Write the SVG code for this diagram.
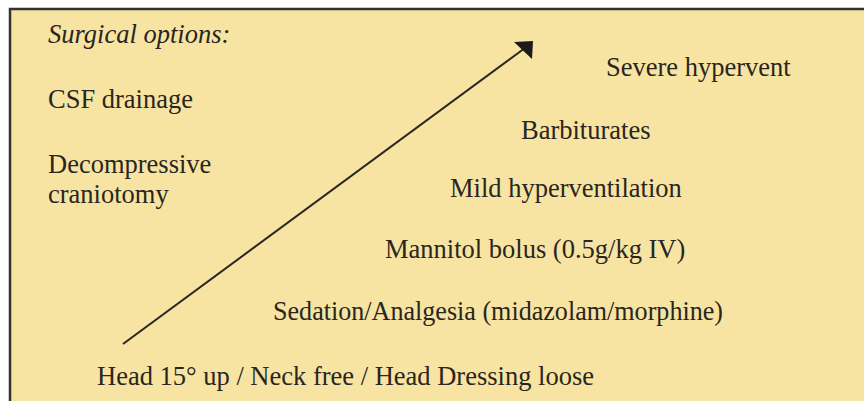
<svg xmlns="http://www.w3.org/2000/svg" width="864" height="401" viewBox="0 0 864 401">
<style>
  .t { font-family: "Liberation Serif", "Times New Roman", serif; font-size: 26.5px; fill: #2a2520; }
  .i { font-style: italic; }
  .box { fill: #f7e4a2; stroke: #333; stroke-width: 2.5; }
  .conn { stroke: #2a2520; stroke-width: 2; fill: none; }
  .head { fill: #1a1a1a; }
</style>
<rect width="864" height="401" fill="#ffffff"/>
<rect class="box" x="10" y="9" width="870" height="400"/>
<g id="surgical-options"><text class="t i" x="48" y="43">Surgical options:</text></g>
<g id="csf-drainage"><text class="t" x="48" y="108">CSF drainage</text></g>
<g id="decompressive-craniotomy"><text class="t" x="48" y="173">Decompressive</text><text class="t" x="48" y="203">craniotomy</text></g>
<g id="severe-hypervent"><text class="t" x="606" y="76">Severe hypervent</text></g>
<g id="barbiturates"><text class="t" x="521" y="139">Barbiturates</text></g>
<g id="mild-hyperventilation"><text class="t" x="450" y="197">Mild hyperventilation</text></g>
<g id="mannitol"><text class="t" x="385" y="258">Mannitol bolus (0.5g/kg IV)</text></g>
<g id="sedation"><text class="t" x="273" y="320" textLength="450" lengthAdjust="spacingAndGlyphs">Sedation/Analgesia (midazolam/morphine)</text></g>
<g id="head-position"><text class="t" x="97" y="385">Head 15° up / Neck free / Head Dressing loose</text></g>
<g id="connectors">
  <line class="conn" x1="123" y1="344" x2="525" y2="48"/>
  <polygon class="head" points="533,41 514,42 532,59"/>
</g>
</svg>
